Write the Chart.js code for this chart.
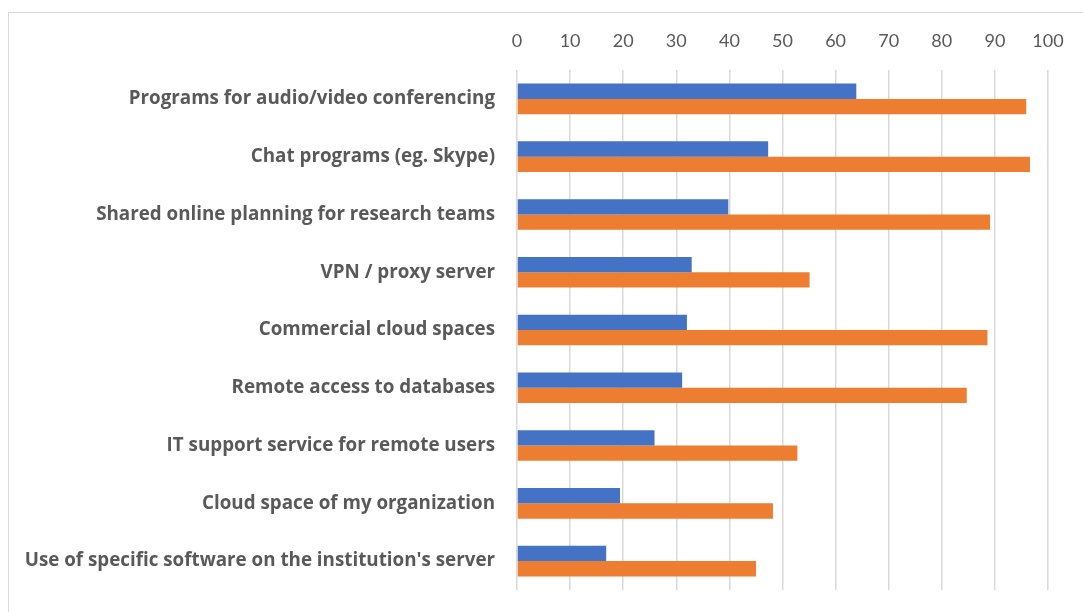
<!DOCTYPE html>
<html>
<head>
<meta charset="utf-8">
<script src="https://cdn.jsdelivr.net/npm/chart.js@4"></script>
<style>
    html, body { margin: 0; padding: 0; background: #fff; }
    #wrap { position: relative; width: 1083px; height: 612px; overflow: hidden; }
    #frame { position: absolute; left: 8px; top: 12px; width: 1200px; height: 700px; border: 1.5px solid #d9d9d9; }
    canvas { position: absolute; left: 0; top: 0; }
</style>
</head>
<body>
<div id="wrap">
    <div id="frame"></div>
    <canvas id="myChart" width="1083" height="612"></canvas>
</div>
<script>
// kategorie i wartosci
const categories = [
    'Programs for audio/video conferencing',
    'Chat programs (eg. Skype)',
    'Shared online planning for research teams',
    'VPN / proxy server',
    'Commercial cloud spaces',
    'Remote access to databases',
    'IT support service for remote users',
    'Cloud space of my organization',
    "Use of specific software on the institution's server"
];
const series1 = [63.9, 47.3, 39.8, 32.9, 32.0, 31.1, 25.9, 19.4, 16.8];
const series2 = [95.9, 96.6, 89.1, 55.1, 88.6, 84.7, 52.8, 48.2, 45.0];
const xTicks = [0, 10, 20, 30, 40, 50, 60, 70, 80, 90, 100];

const data = {
    labels: categories,
    datasets: [{
        label: 'Series 1',
        backgroundColor: '#4472C4',
        data: series1,
    }, {
        label: 'Series 2',
        backgroundColor: '#ED7D31',
        data: series2,
    }]
};

const config = {
    type: 'bar',
    data: data,
    options: {
        indexAxis: 'y',
        responsive: false,
        animation: false,
        layout: {
            padding: { left: 0, right: 35, top: 0, bottom: 22 }
        },
        datasets: {
            bar: {
                categoryPercentage: 0.53,
                barPercentage: 1.0,
            }
        },
        plugins: {
            legend: { display: false },
            tooltip: { enabled: false }
        },
        scales: {
            x: {
                position: 'top',
                min: 0,
                max: 100,
                afterBuildTicks: (scale) => {
                    scale.ticks = xTicks.map(v => ({ value: v }));
                },
                afterFit: (scale) => { scale.height = 70; },
                border: { display: false },
                grid: {
                    color: '#d9d9d9',
                    lineWidth: 1.5,
                    drawTicks: false,
                },
                ticks: {
                    color: '#595959',
                    padding: 18,
                    font: { family: 'Lato', size: 18 },
                }
            },
            y: {
                afterFit: (scale) => {
                    scale.width = 517;
                    scale.paddingTop = 0;
                    scale.paddingBottom = 0;
                },
                border: { display: false },
                grid: { display: false },
                ticks: {
                    color: '#595959',
                    padding: 14,
                    font: { family: 'Open Sans', size: 18.8, weight: 'bold' },
                }
            }
        }
    }
};

const myChart = new Chart(
    document.getElementById('myChart'),
    config
);
</script>
</body>
</html>
